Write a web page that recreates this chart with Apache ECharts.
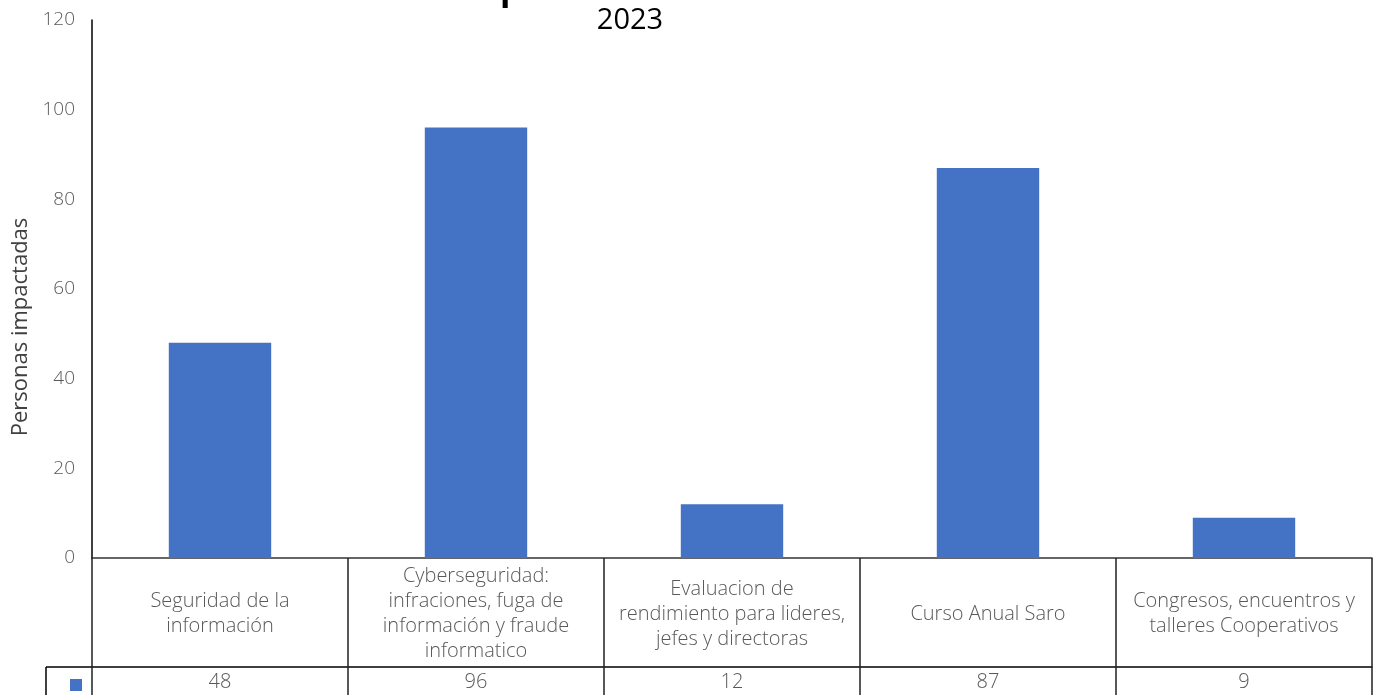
<!DOCTYPE html>
<html>
<head>
<meta charset="utf-8">
<script src="https://cdn.jsdelivr.net/npm/echarts@6/dist/echarts.min.js"></script>
<style>html,body{margin:0;padding:0;background:#fff;}#c{width:1375px;height:695px;}</style>
</head>
<body>
<div id="c"></div>
<script>
const categories = [
  'Seguridad de la\ninformación',
  'Cyberseguridad:\ninfraciones, fuga de\ninformación y fraude\ninformatico',
  'Evaluacion de\nrendimiento para lideres,\njefes y directoras',
  'Curso Anual Saro',
  'Congresos, encuentros y\ntalleres Cooperativos'
];
const values = [48, 96, 12, 87, 9];
const yTicks = { min: 0, max: 120, interval: 20 };
const yTitle = 'Personas impactadas';
const subTitle = '2023';

const FONT = '"Open Sans", "Liberation Sans", sans-serif';
const chart = echarts.init(document.getElementById('c'), null, { renderer: 'canvas' });
chart.setOption({
  animation: false,
  backgroundColor: '#ffffff',
  textStyle: { fontFamily: FONT },
  grid: { left: 92, right: 3, top: 20, bottom: 137, containLabel: false, outerBoundsMode: 'none' },
  legend: {
    left: 70, top: 679, itemWidth: 12, itemHeight: 12, icon: 'rect', padding: 0,
    itemGap: 0, formatter: () => '', selectedMode: false,
    textStyle: { fontSize: 1 }
  },
  graphic: [
    { type: 'text', left: 500, top: -27, style: { text: 'p', fontSize: 34, fontWeight: 'bold', fontFamily: FONT, fill: '#000' } },
    { type: 'text', x: 630, y: 6, style: { text: subTitle, fontSize: 29, fontFamily: FONT, fill: '#000', textAlign: 'center' } },
    { type: 'line', shape: { x1: 46, y1: 667, x2: 92, y2: 667 }, style: { stroke: '#000', lineWidth: 1.5 } },
    { type: 'line', shape: { x1: 46, y1: 667, x2: 46, y2: 700 }, style: { stroke: '#000', lineWidth: 1.5 } }
  ],
  xAxis: [
    {
      type: 'category', data: categories, boundaryGap: true,
      axisLine: { show: true, lineStyle: { color: '#333', width: 1.5 } },
      axisTick: { show: true, interval: 0, length: 145, lineStyle: { color: '#222', width: 1.5 } },
      axisLabel: { interval: 0, margin: 56, verticalAlign: 'middle', color: '#595959', fontSize: 20, lineHeight: 25, fontFamily: FONT, fontWeight: 300 },
      splitLine: { show: false }
    },
    {
      type: 'category', data: values.map(String), boundaryGap: true, position: 'bottom', offset: 109,
      axisLine: { show: true, lineStyle: { color: '#000', width: 1.5 } },
      axisTick: { show: false },
      axisLabel: { interval: 0, margin: 15, verticalAlign: 'middle', color: '#595959', fontSize: 20, fontFamily: FONT, fontWeight: 300 },
      splitLine: { show: false }
    }
  ],
  yAxis: {
    type: 'value', min: yTicks.min, max: yTicks.max, interval: yTicks.interval,
    name: yTitle, nameLocation: 'middle', nameRotate: 90, nameGap: 60,
    nameTextStyle: { fontSize: 22, color: '#404040', fontFamily: FONT, padding: [0, 76, 0, 0] },
    axisLine: { show: true, lineStyle: { color: '#000', width: 1.5 } },
    axisTick: { show: false },
    splitLine: { show: false },
    axisLabel: { margin: 17, color: '#595959', fontSize: 19, fontFamily: FONT, fontWeight: 300, padding: [6, 0, 0, 0] }
  },
  series: [{
    name: yTitle, type: 'bar', data: values, barWidth: '40%', xAxisIndex: 0,
    itemStyle: { color: '#4472C4' }
  }]
});
</script>
</body>
</html>
